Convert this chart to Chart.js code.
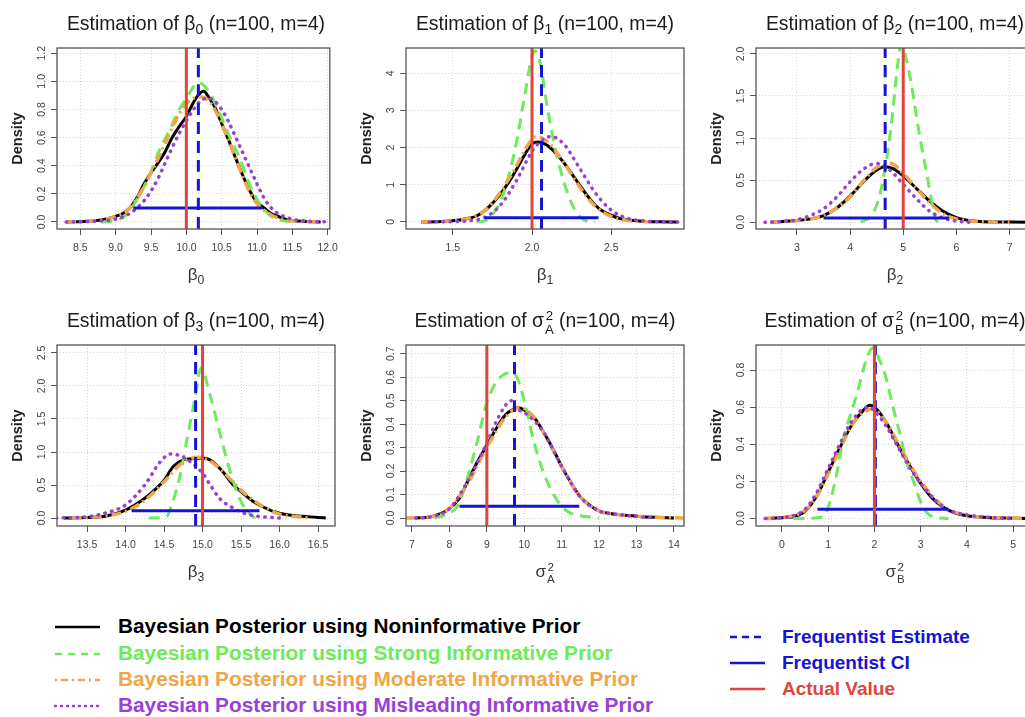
<!DOCTYPE html>
<html>
<head>
<meta charset="utf-8">
<title>Posterior densities, n=100, m=4</title>
<script src="https://cdn.jsdelivr.net/npm/chart.js@4.4.1/dist/chart.umd.min.js"></script>
<style>
  body { margin: 0; width: 1025px; height: 717px; overflow: hidden; background: #fff; position: relative;
         font-family: "Liberation Sans", Arial, sans-serif; }
  .panel { position: absolute; width: 345px; height: 300px; }
  .panel canvas { position: absolute; left: 0; top: 0; }
  .ttl { position: absolute; left: 57px; width: 278px; top: 10px; height: 26px; line-height: 26px; text-align: center;
         white-space: nowrap; font-size: 19.4px; color: #1a1a1a; }
  .xlab { position: absolute; left: 57px; width: 278px; top: 263px; height: 24px; line-height: 24px; text-align: center;
          white-space: nowrap; font-size: 17px; color: #333; }
  sub { font-size: .72em; vertical-align: -0.3em; line-height: 0; }
  .stk { display: inline-flex; flex-direction: column; font-size: .68em; line-height: 1; vertical-align: 0.5em;
         margin-left: 1px; text-align: center; }
  .stk span { display: block; }
  .leg { position: absolute; font-weight: bold; white-space: nowrap; line-height: 1; }
  .leg svg { position: absolute; }
</style>
</head>
<body>
<div id="panels"></div>
<div id="legend"></div>
<script>
// ---------- values ----------
// each curve: [x, density] pairs

// beta0
const b0Noninformative = [[8.3,0],[8.6,0.005],[8.8,0.015],[9.0,0.04],[9.1,0.06],[9.2,0.1],[9.3,0.17],[9.4,0.27],[9.5,0.35],[9.6,0.42],[9.7,0.5],[9.8,0.6],[9.9,0.68],[10.0,0.75],[10.1,0.85],[10.2,0.92],[10.25,0.93],[10.3,0.9],[10.4,0.82],[10.5,0.7],[10.6,0.58],[10.7,0.45],[10.8,0.33],[10.9,0.22],[11.0,0.14],[11.1,0.1],[11.2,0.06],[11.3,0.04],[11.4,0.02],[11.5,0.01],[11.7,0.004],[11.9,0]];
const b0Strong = [[8.8,0],[9.0,0.01],[9.1,0.03],[9.2,0.08],[9.3,0.16],[9.4,0.25],[9.5,0.36],[9.6,0.49],[9.75,0.64],[9.9,0.8],[10.0,0.88],[10.1,0.96],[10.15,0.99],[10.25,0.97],[10.35,0.9],[10.5,0.74],[10.6,0.62],[10.75,0.46],[10.9,0.26],[11.0,0.16],[11.1,0.09],[11.2,0.04],[11.35,0.01],[11.5,0]];
const b0Moderate = [[8.3,0],[8.6,0.005],[8.8,0.015],[9.0,0.04],[9.2,0.1],[9.4,0.25],[9.5,0.35],[9.6,0.45],[9.7,0.56],[9.8,0.67],[9.9,0.77],[10.0,0.84],[10.1,0.88],[10.2,0.89],[10.3,0.87],[10.4,0.8],[10.5,0.7],[10.6,0.58],[10.7,0.45],[10.8,0.32],[10.9,0.21],[11.0,0.13],[11.2,0.05],[11.4,0.015],[11.6,0.005],[11.9,0]];
const b0Misleading = [[8.3,0],[8.7,0.005],[9.0,0.02],[9.2,0.06],[9.3,0.1],[9.4,0.15],[9.5,0.22],[9.6,0.31],[9.7,0.42],[9.8,0.53],[9.9,0.63],[10.0,0.72],[10.1,0.8],[10.2,0.86],[10.3,0.88],[10.4,0.86],[10.5,0.8],[10.6,0.71],[10.7,0.6],[10.8,0.49],[10.9,0.38],[11.0,0.27],[11.1,0.17],[11.2,0.1],[11.3,0.06],[11.5,0.02],[11.7,0.006],[12.05,0]];

// beta1
const b1Noninformative = [[1.3,0],[1.4,0.005],[1.5,0.03],[1.6,0.1],[1.65,0.16],[1.7,0.3],[1.75,0.5],[1.8,0.75],[1.85,1.05],[1.9,1.4],[1.95,1.78],[2.0,2.1],[2.04,2.15],[2.1,2.05],[2.15,1.85],[2.2,1.6],[2.25,1.3],[2.3,1.0],[2.35,0.7],[2.4,0.45],[2.45,0.28],[2.5,0.18],[2.55,0.1],[2.6,0.06],[2.7,0.02],[2.8,0.005],[2.92,0]];
const b1Strong = [[1.65,0],[1.7,0.03],[1.75,0.2],[1.8,0.55],[1.85,1.2],[1.9,2.1],[1.95,3.3],[2.0,4.45],[2.02,4.6],[2.05,4.3],[2.1,3.0],[2.15,1.9],[2.2,1.1],[2.25,0.5],[2.3,0.15],[2.35,0.02],[2.4,0]];
const b1Moderate = [[1.3,0],[1.5,0.03],[1.6,0.1],[1.7,0.3],[1.8,0.8],[1.9,1.5],[1.95,1.9],[2.0,2.22],[2.03,2.3],[2.1,2.15],[2.2,1.6],[2.3,0.95],[2.4,0.42],[2.5,0.15],[2.6,0.04],[2.7,0.01],[2.75,0]];
const b1Misleading = [[1.35,0],[1.5,0.01],[1.6,0.03],[1.7,0.12],[1.8,0.45],[1.9,1.1],[2.0,1.9],[2.05,2.15],[2.12,2.3],[2.2,2.1],[2.3,1.45],[2.4,0.78],[2.5,0.32],[2.6,0.1],[2.7,0.03],[2.8,0.005],[2.92,0]];

// beta2
const b2Noninformative = [[2.5,0],[3.0,0.02],[3.25,0.04],[3.5,0.08],[3.75,0.17],[4.0,0.31],[4.25,0.48],[4.5,0.62],[4.65,0.66],[4.8,0.64],[5.0,0.55],[5.25,0.4],[5.5,0.25],[5.75,0.13],[6.0,0.055],[6.25,0.02],[6.5,0.006],[7.0,0.002],[7.5,0]];
const b2Strong = [[4.2,0],[4.4,0.08],[4.55,0.3],[4.7,0.8],[4.8,1.3],[4.9,1.9],[4.96,2.12],[5.05,1.95],[5.15,1.65],[5.25,1.25],[5.35,0.88],[5.45,0.55],[5.55,0.2],[5.6,0.05],[5.65,0]];
const b2Moderate = [[2.5,0],[3.0,0.02],[3.5,0.08],[3.75,0.17],[4.0,0.3],[4.25,0.49],[4.5,0.65],[4.75,0.7],[5.0,0.58],[5.25,0.4],[5.5,0.23],[5.75,0.1],[6.0,0.04],[6.5,0.005],[7.0,0]];
const b2Misleading = [[2.4,0],[2.75,0.01],[3.0,0.03],[3.25,0.08],[3.5,0.16],[3.75,0.3],[4.0,0.48],[4.25,0.63],[4.5,0.7],[4.75,0.62],[5.0,0.45],[5.25,0.28],[5.5,0.13],[5.75,0.05],[6.0,0.015],[6.25,0]];

// beta3
const b3Noninformative = [[13.2,0],[13.5,0.01],[13.75,0.03],[14.0,0.12],[14.25,0.3],[14.4,0.45],[14.5,0.57],[14.62,0.78],[14.75,0.88],[14.9,0.9],[15.0,0.91],[15.1,0.88],[15.25,0.72],[15.4,0.5],[15.5,0.4],[15.66,0.25],[15.75,0.19],[15.92,0.1],[16.1,0.05],[16.25,0.03],[16.5,0.01],[16.6,0]];
const b3Strong = [[14.3,0],[14.53,0.02],[14.6,0.2],[14.7,0.6],[14.8,1.2],[14.9,1.8],[14.98,2.27],[15.1,1.85],[15.2,1.4],[15.3,0.95],[15.4,0.55],[15.5,0.25],[15.6,0.08],[15.68,0]];
const b3Moderate = [[13.3,0],[13.5,0.01],[14.0,0.1],[14.25,0.27],[14.5,0.55],[14.75,0.85],[14.95,0.92],[15.1,0.86],[15.25,0.72],[15.5,0.42],[15.75,0.2],[16.0,0.06],[16.25,0.02],[16.4,0]];
const b3Misleading = [[13.1,0],[13.5,0.02],[13.75,0.08],[14.0,0.2],[14.25,0.5],[14.45,0.85],[14.58,0.97],[14.75,0.92],[15.0,0.68],[15.1,0.5],[15.22,0.3],[15.4,0.15],[15.55,0.07],[15.7,0.03],[16.0,0]];

// sigma^2 A
const sANoninformative = [[7.1,0],[7.5,0.005],[8.0,0.04],[8.25,0.08],[8.5,0.16],[8.75,0.24],[9.0,0.31],[9.25,0.38],[9.5,0.44],[9.75,0.465],[9.85,0.47],[10.0,0.46],[10.25,0.43],[10.5,0.37],[10.75,0.3],[11.0,0.22],[11.25,0.15],[11.5,0.09],[11.75,0.055],[12.0,0.03],[12.5,0.015],[13.0,0.008],[13.5,0.003],[14.0,0]];
const sAStrong = [[7.6,0],[8.0,0.02],[8.25,0.06],[8.5,0.18],[8.75,0.33],[9.0,0.49],[9.25,0.58],[9.5,0.615],[9.65,0.62],[9.8,0.6],[10.0,0.5],[10.25,0.33],[10.5,0.2],[10.75,0.11],[11.0,0.05],[11.25,0.02],[11.5,0.01],[12.0,0]];
const sAModerate = [[6.85,0],[7.5,0.005],[8.0,0.04],[8.5,0.15],[9.0,0.3],[9.5,0.43],[9.9,0.47],[10.25,0.43],[10.5,0.37],[11.0,0.22],[11.5,0.09],[12.0,0.03],[12.5,0.015],[13.0,0.008],[13.5,0.003],[14.25,0]];
const sAMisleading = [[7.1,0],[7.5,0.005],[8.0,0.04],[8.5,0.16],[9.0,0.32],[9.25,0.41],[9.5,0.48],[9.65,0.5],[9.75,0.47],[10.0,0.45],[10.5,0.37],[11.0,0.22],[11.5,0.09],[12.0,0.03],[12.5,0.015],[13.0,0.007],[13.5,0]];

// sigma^2 B
const sBNoninformative = [[-0.35,0],[0.0,0.005],[0.25,0.01],[0.5,0.04],[0.75,0.12],[1.0,0.25],[1.25,0.38],[1.5,0.5],[1.75,0.58],[1.9,0.61],[2.0,0.6],[2.25,0.52],[2.5,0.4],[2.75,0.29],[3.0,0.19],[3.25,0.11],[3.5,0.06],[3.75,0.03],[4.0,0.015],[4.5,0.005],[5.0,0.002],[5.5,0]];
const sBStrong = [[0.25,0],[0.9,0.01],[1.0,0.06],[1.15,0.2],[1.33,0.43],[1.47,0.55],[1.61,0.66],[1.83,0.86],[1.97,0.92],[2.1,0.86],[2.26,0.75],[2.4,0.6],[2.54,0.47],[2.7,0.3],[2.83,0.21],[3.0,0.09],[3.12,0.036],[3.26,0.01],[3.6,0]];
const sBModerate = [[-0.4,0],[0.0,0.005],[0.5,0.045],[0.75,0.12],[1.0,0.24],[1.25,0.37],[1.5,0.5],[1.75,0.57],[1.95,0.59],[2.25,0.52],[2.5,0.41],[2.75,0.3],[3.0,0.2],[3.5,0.065],[4.0,0.018],[4.5,0.006],[5.0,0.002],[5.5,0]];
const sBMisleading = [[-0.35,0],[0.0,0.005],[0.5,0.05],[0.75,0.14],[1.0,0.27],[1.25,0.4],[1.5,0.52],[1.75,0.59],[1.9,0.6],[2.0,0.58],[2.25,0.5],[2.5,0.39],[2.75,0.28],[3.0,0.19],[3.5,0.06],[4.0,0.02],[4.5,0.006],[5.0,0]];

// frequentist results and true values, one entry per panel
const actualValue  = [10, 2, 5, 15, 9, 2];
const freqEstimate = [10.17, 2.06, 4.66, 14.91, 9.74, 2.02];
const freqCiLow    = [9.25, 1.70, 3.50, 14.08, 8.27, 0.77];
const freqCiHigh   = [11.08, 2.42, 5.86, 15.74, 11.47, 3.60];
const freqCiLevel  = [0.1, 0.11, 0.05, 0.11, 0.05, 0.05];

// tick labels
const b0XTicks = ['8.5','9.0','9.5','10.0','10.5','11.0','11.5','12.0'];
const b0YTicks = ['0.0','0.2','0.4','0.6','0.8','1.0','1.2'];
const b1XTicks = ['1.5','2.0','2.5'];
const b1YTicks = ['0','1','2','3','4'];
const b2XTicks = ['3','4','5','6','7'];
const b2YTicks = ['0.0','0.5','1.0','1.5','2.0'];
const b3XTicks = ['13.5','14.0','14.5','15.0','15.5','16.0','16.5'];
const b3YTicks = ['0.0','0.5','1.0','1.5','2.0','2.5'];
const sAXTicks = ['7','8','9','10','11','12','13','14'];
const sAYTicks = ['0.0','0.1','0.2','0.3','0.4','0.5','0.6','0.7'];
const sBXTicks = ['0','1','2','3','4','5'];
const sBYTicks = ['0.0','0.2','0.4','0.6','0.8'];

const seriesNames = [
  'Bayesian Posterior using Noninformative Prior',
  'Bayesian Posterior using Strong Informative Prior',
  'Bayesian Posterior using Moderate Informative Prior',
  'Bayesian Posterior using Misleading Informative Prior'
];
const refNames = ['Frequentist Estimate', 'Frequentist CI', 'Actual Value'];

// ---------- layout / style ----------
const sigma = s => 'σ<span class="stk"><span>2</span><span>' + s + '</span></span>';
const paramLabels = ['β<sub>0</sub>', 'β<sub>1</sub>', 'β<sub>2</sub>', 'β<sub>3</sub>', sigma('A'), sigma('B')];

const panels = [
  { curves: [b0Noninformative, b0Strong, b0Moderate, b0Misleading], xt: b0XTicks, yt: b0YTicks, xr: [8.17, 12.03], yr: [-0.05, 1.237] },
  { curves: [b1Noninformative, b1Strong, b1Moderate, b1Misleading], xt: b1XTicks, yt: b1YTicks, xr: [1.204, 2.96], yr: [-0.19, 4.68] },
  { curves: [b2Noninformative, b2Strong, b2Moderate, b2Misleading], xt: b2XTicks, yt: b2YTicks, xr: [2.23, 7.46], yr: [-0.08, 2.07] },
  { curves: [b3Noninformative, b3Strong, b3Moderate, b3Misleading], xt: b3XTicks, yt: b3YTicks, xr: [13.11, 16.72], yr: [-0.12, 2.62] },
  { curves: [sANoninformative, sAStrong, sAModerate, sAMisleading], xt: sAXTicks, yt: sAYTicks, xr: [6.84, 14.27], yr: [-0.034, 0.737] },
  { curves: [sBNoninformative, sBStrong, sBModerate, sBMisleading], xt: sBXTicks, yt: sBYTicks, xr: [-0.56, 5.45], yr: [-0.04, 0.935] }
];
const panelLeft = [0, 349, 699];
const panelTop = [0, 297];

const curveStyles = [
  { color: '#000000', width: 3,   dash: [],          cap: 'butt',  order: 6 },
  { color: '#6DEB5A', width: 3,   dash: [11, 7],     cap: 'butt',  order: 5 },
  { color: '#F0A646', width: 3.5, dash: [10, 4, 2, 4], cap: 'butt', order: 4 },
  { color: '#9A3FD8', width: 3.5, dash: [0.5, 6.5],  cap: 'round', order: 3 }
];
const estColor = '#1414D2';
const actualColor = '#E0443A';

const toPts = arr => arr.map(([x, y]) => ({ x, y }));

// box, rotated y tick labels and y title, drawn the way R does it
const rAxes = {
  id: 'rAxes',
  afterDraw(chart) {
    const { ctx, chartArea: a, scales: { y } } = chart;
    const yt = chart.options.plugins.rAxes.ticks;
    ctx.save();
    ctx.strokeStyle = '#555';
    ctx.lineWidth = 1.3;
    ctx.strokeRect(a.left, a.top, a.right - a.left, a.bottom - a.top);
    ctx.fillStyle = '#444';
    ctx.font = '10.5px "Liberation Sans", Arial, sans-serif';
    ctx.textAlign = 'center';
    ctx.textBaseline = 'middle';
    yt.forEach(lbl => {
      const py = y.getPixelForValue(parseFloat(lbl));
      ctx.save();
      ctx.translate(a.left - 15, py);
      ctx.rotate(-Math.PI / 2);
      ctx.fillText(lbl, 0, 0);
      ctx.restore();
    });
    ctx.fillStyle = '#222';
    ctx.font = 'bold 14.5px "Liberation Sans", Arial, sans-serif';
    ctx.translate(a.left - 39, (a.top + a.bottom) / 2);
    ctx.rotate(-Math.PI / 2);
    ctx.fillText('Density', 0, 0);
    ctx.restore();
  }
};

const host = document.getElementById('panels');
panels.forEach((p, i) => {
  const div = document.createElement('div');
  div.className = 'panel';
  div.style.left = panelLeft[i % 3] + 'px';
  div.style.top = panelTop[Math.floor(i / 3)] + 'px';
  div.innerHTML = '<canvas width="345" height="300"></canvas>' +
    '<div class="ttl">Estimation of ' + paramLabels[i] + ' (n=100, m=4)</div>' +
    '<div class="xlab">' + paramLabels[i] + '</div>';
  host.appendChild(div);

  const datasets = p.curves.map((c, k) => ({
    label: seriesNames[k],
    data: toPts(c),
    borderColor: curveStyles[k].color,
    borderWidth: curveStyles[k].width,
    borderDash: curveStyles[k].dash,
    borderCapStyle: curveStyles[k].cap,
    cubicInterpolationMode: 'monotone',
    order: curveStyles[k].order
  }));
  datasets.push({
    label: refNames[0],
    data: [{ x: freqEstimate[i], y: p.yr[0] }, { x: freqEstimate[i], y: p.yr[1] }],
    borderColor: estColor, borderWidth: 3, borderDash: [12, 7], order: 2
  });
  datasets.push({
    label: refNames[1],
    data: [{ x: freqCiLow[i], y: freqCiLevel[i] }, { x: freqCiHigh[i], y: freqCiLevel[i] }],
    borderColor: estColor, borderWidth: 3, order: 1
  });
  datasets.push({
    label: refNames[2],
    data: [{ x: actualValue[i], y: p.yr[0] }, { x: actualValue[i], y: p.yr[1] }],
    borderColor: actualColor, borderWidth: 3, order: 0
  });

  new Chart(div.querySelector('canvas'), {
    type: 'line',
    data: { datasets },
    options: {
      responsive: false,
      animation: false,
      layout: { padding: { top: 48, right: 10, left: 0, bottom: 0 } },
      elements: { point: { radius: 0 }, line: { tension: 0.4, fill: false } },
      plugins: { legend: { display: false }, tooltip: { enabled: false }, rAxes: { ticks: p.yt } },
      scales: {
        x: {
          type: 'linear', min: p.xr[0], max: p.xr[1],
          afterBuildTicks: s => { s.ticks = p.xt.map(v => ({ value: parseFloat(v) })); },
          afterFit: s => { s.height = 71; },
          ticks: { autoSkip: false, maxRotation: 0, padding: 7, color: '#444',
                   font: { size: 10.5, family: '"Liberation Sans", Arial, sans-serif' },
                   callback: (v, k) => p.xt[k] },
          grid: { color: '#d6d6d6', tickColor: '#555', tickLength: 6, lineWidth: 1 },
          border: { display: false, dash: [1, 2] }
        },
        y: {
          type: 'linear', min: p.yr[0], max: p.yr[1],
          afterBuildTicks: s => { s.ticks = p.yt.map(v => ({ value: parseFloat(v) })); },
          afterFit: s => { s.width = 57; },
          ticks: { display: false },
          grid: { color: '#d6d6d6', tickColor: '#555', tickLength: 6, lineWidth: 1 },
          border: { display: false, dash: [1, 2] }
        }
      }
    },
    plugins: [rAxes]
  });
});

// ---------- legend ----------
const legendHost = document.getElementById('legend');
const legendColors = ['#000000', '#6DEB5A', '#F0A646', '#9A3FD8'];
const legendDash = ['', '7 6', '2 4 7 4', '1 5'];
function legendRow(text, color, dash, cap, x, y, sx1, sx2, size) {
  const row = document.createElement('div');
  row.className = 'leg';
  row.style.left = x + 'px';
  row.style.top = (y - size * 0.55) + 'px';
  row.style.fontSize = size + 'px';
  row.style.color = color;
  row.textContent = text;
  const svg = document.createElementNS('http://www.w3.org/2000/svg', 'svg');
  svg.setAttribute('width', sx2 - sx1 + 4);
  svg.setAttribute('height', 8);
  svg.style.left = (sx1 - x - 2) + 'px';
  svg.style.top = (size * 0.55 - 4) + 'px';
  svg.innerHTML = '<line x1="2" y1="4" x2="' + (sx2 - sx1 + 2) + '" y2="4" stroke="' + color +
    '" stroke-width="2.5" stroke-linecap="' + cap + '"' + (dash ? ' stroke-dasharray="' + dash + '"' : '') + '/>';
  row.appendChild(svg);
  legendHost.appendChild(row);
}
const leftRowsY = [627, 654, 680, 706];
seriesNames.forEach((t, k) => legendRow(t, legendColors[k], legendDash[k], k === 3 ? 'round' : 'butt',
  118, leftRowsY[k], 55, 100, 20.8));
const rightRowsY = [637, 663, 689];
const refColors = [estColor, estColor, actualColor];
const refDash = ['7 5', '', ''];
refNames.forEach((t, k) => legendRow(t, refColors[k], refDash[k], 'butt', 782, rightRowsY[k], 730, 765, 19));
</script>
</body>
</html>
